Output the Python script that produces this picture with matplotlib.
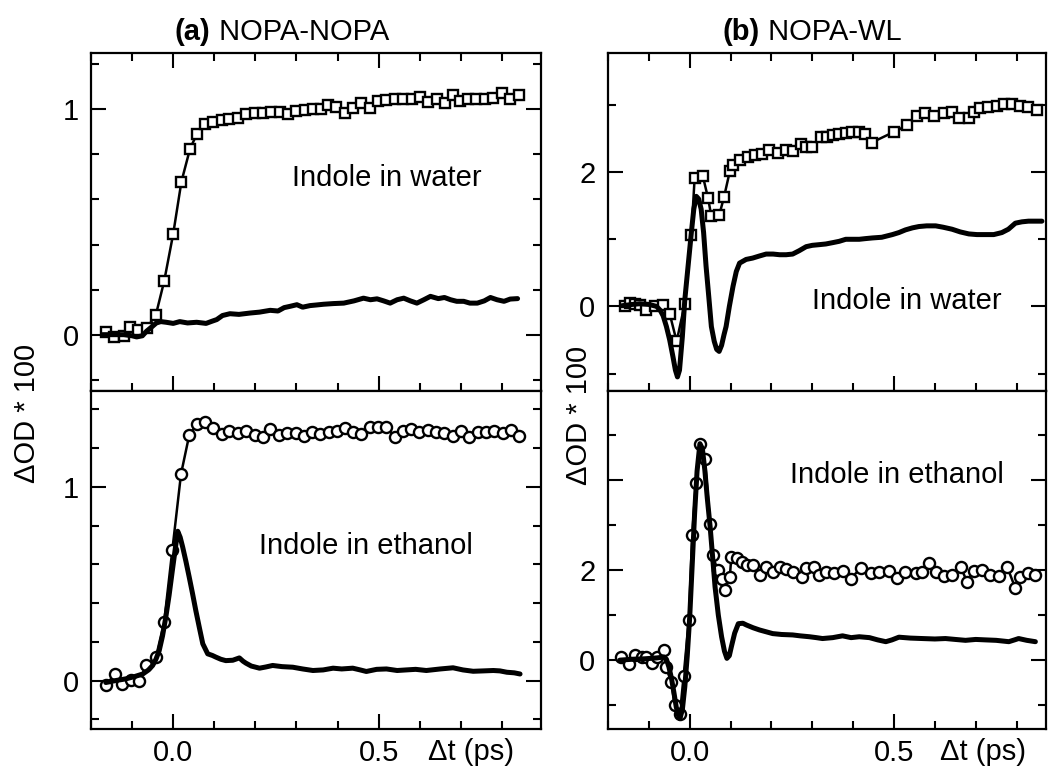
import matplotlib
matplotlib.use("Agg")
import matplotlib.pyplot as plt
from matplotlib.ticker import MultipleLocator

plt.rcParams['font.family'] = ['Liberation Sans', 'DejaVu Sans']
plt.rcParams['font.size'] = 21

# ---------------- data ----------------
# (a) NOPA-NOPA, indole in water
tl_sq_t = [-0.164, -0.144, -0.120, -0.106, -0.085, -0.064, -0.042, -0.022,
           0.000, 0.020, 0.041, 0.058, 0.077, 0.096, 0.118, 0.137, 0.157, 0.177,
           0.198, 0.218, 0.238, 0.259, 0.279, 0.299, 0.320, 0.340, 0.360, 0.377,
           0.397, 0.417, 0.437, 0.458, 0.478, 0.498, 0.519, 0.539, 0.559, 0.580,
           0.600, 0.620, 0.641, 0.661, 0.681, 0.698, 0.718, 0.738, 0.759, 0.779,
           0.799, 0.820, 0.842]
tl_sq_v = [0.012, -0.010, -0.007, 0.033, 0.019, 0.030, 0.089, 0.237,
           0.447, 0.679, 0.825, 0.892, 0.933, 0.944, 0.951, 0.958, 0.963, 0.978,
           0.982, 0.985, 0.988, 0.988, 0.980, 0.993, 0.996, 1.000, 1.003, 1.018,
           1.010, 0.985, 1.007, 1.026, 1.007, 1.037, 1.041, 1.044, 1.044, 1.044,
           1.056, 1.033, 1.044, 1.030, 1.062, 1.037, 1.044, 1.047, 1.047, 1.052,
           1.071, 1.044, 1.062]
tl_ln_t = [-0.172, -0.15, -0.12, -0.1, -0.089, -0.075, -0.065, -0.055, -0.041, -0.03,
           -0.017, 0.0, 0.016, 0.035, 0.057, 0.08, 0.095, 0.106, 0.12, 0.138,
           0.16, 0.187, 0.21, 0.236, 0.255, 0.27, 0.285, 0.301, 0.315, 0.333,
           0.35, 0.366, 0.39, 0.415, 0.44, 0.463, 0.48, 0.496, 0.512, 0.528,
           0.545, 0.561, 0.577, 0.593, 0.61, 0.626, 0.645, 0.66, 0.675, 0.69,
           0.707, 0.722, 0.740, 0.757, 0.772, 0.788, 0.805, 0.82, 0.838]
tl_ln_v = [0.0, 0.0, 0.0, -0.005, -0.01, -0.005, 0.015, 0.03, 0.052, 0.058,
           0.055, 0.05, 0.058, 0.052, 0.055, 0.05, 0.06, 0.067, 0.085, 0.093,
           0.09, 0.096, 0.1, 0.108, 0.105, 0.12, 0.126, 0.133, 0.122, 0.129,
           0.132, 0.135, 0.138, 0.14, 0.15, 0.162, 0.155, 0.159, 0.15, 0.14,
           0.155, 0.162, 0.15, 0.14, 0.155, 0.17, 0.16, 0.165, 0.155, 0.148,
           0.148, 0.14, 0.14, 0.15, 0.165, 0.155, 0.148, 0.158, 0.16]

# (a) NOPA-NOPA, indole in ethanol
bl_ci_t = [-0.163, -0.141, -0.124, -0.103, -0.083, -0.065, -0.042, -0.022, -0.002,
           0.019, 0.039, 0.058, 0.077, 0.098, 0.118, 0.137, 0.157, 0.177,
           0.198, 0.218, 0.236, 0.257, 0.277, 0.298, 0.318, 0.338, 0.358,
           0.379, 0.398, 0.417, 0.437, 0.458, 0.478, 0.498, 0.519, 0.539,
           0.559, 0.578, 0.598, 0.619, 0.639, 0.659, 0.680, 0.700, 0.720,
           0.741, 0.761, 0.781, 0.802, 0.822, 0.842]
bl_ci_v = [-0.021, 0.035, -0.017, 0.003, 0.0, 0.078, 0.121, 0.302, 0.676,
           1.066, 1.267, 1.324, 1.336, 1.302, 1.273, 1.29, 1.28, 1.286,
           1.27, 1.257, 1.30, 1.27, 1.277, 1.277, 1.265, 1.282, 1.274,
           1.282, 1.29, 1.304, 1.282, 1.274, 1.308, 1.308, 1.31, 1.257,
           1.286, 1.30, 1.282, 1.294, 1.282, 1.277, 1.265, 1.286, 1.26,
           1.282, 1.282, 1.286, 1.277, 1.294, 1.265]
bl_ln_t = [-0.164, -0.14, -0.115, -0.095, -0.074, -0.06, -0.05, -0.042, -0.034, -0.026,
           -0.018, -0.01, -0.002, 0.005, 0.011, 0.017, 0.023, 0.031, 0.039, 0.047,
           0.055, 0.064, 0.072, 0.084, 0.095, 0.104, 0.116, 0.128, 0.145, 0.161,
           0.17, 0.177, 0.19, 0.21, 0.225, 0.242, 0.265, 0.291, 0.315, 0.34,
           0.365, 0.389, 0.41, 0.437, 0.455, 0.47, 0.495, 0.519, 0.545, 0.567,
           0.59, 0.616, 0.65, 0.681, 0.705, 0.73, 0.755, 0.779, 0.795, 0.812,
           0.83, 0.844]
bl_ln_v = [-0.01, 0.0, 0.009, 0.02, 0.034, 0.055, 0.078, 0.11, 0.155, 0.23,
           0.327, 0.44, 0.569, 0.68, 0.771, 0.74, 0.69, 0.615, 0.534, 0.45,
           0.362, 0.27, 0.19, 0.138, 0.13, 0.121, 0.11, 0.103, 0.105, 0.117,
           0.1, 0.09, 0.075, 0.064, 0.07, 0.078, 0.072, 0.069, 0.06, 0.052,
           0.055, 0.064, 0.06, 0.064, 0.055, 0.047, 0.058, 0.06, 0.052, 0.055,
           0.058, 0.052, 0.06, 0.066, 0.055, 0.048, 0.05, 0.052, 0.05, 0.043,
           0.04, 0.034]

# (b) NOPA-WL, indole in water
tr_sq_t = [-0.159, -0.146, -0.134, -0.122, -0.106, -0.085, -0.065, -0.049, -0.032, -0.012,
           0.004, 0.012, 0.032, 0.045, 0.053, 0.072, 0.084, 0.098, 0.105, 0.124,
           0.142, 0.161, 0.177, 0.195, 0.215, 0.236, 0.252, 0.272, 0.285, 0.300,
           0.321, 0.335, 0.35, 0.366, 0.382, 0.398, 0.415, 0.43, 0.445, 0.5,
           0.533, 0.557, 0.577, 0.597, 0.622, 0.642, 0.658, 0.683, 0.695, 0.711,
           0.731, 0.752, 0.768, 0.788, 0.808, 0.829, 0.849]
tr_sq_v = [0.01, 0.05, 0.04, 0.02, -0.05, 0.0, 0.02, -0.11, -0.52, 0.04,
           1.067, 1.91, 1.945, 1.61, 1.34, 1.355, 1.63, 2.01, 2.11, 2.18,
           2.23, 2.25, 2.27, 2.33, 2.29, 2.33, 2.31, 2.42, 2.37, 2.38,
           2.53, 2.52, 2.55, 2.57, 2.59, 2.6, 2.6, 2.57, 2.44, 2.60,
           2.70, 2.83, 2.88, 2.83, 2.88, 2.9, 2.8, 2.8, 2.9, 2.95,
           2.97, 2.98, 3.02, 3.02, 2.98, 2.97, 2.92]
tr_ln_t = [-0.166, -0.14, -0.122, -0.1, -0.081, -0.072, -0.065, -0.057, -0.049, -0.041,
           -0.035, -0.030, -0.025, -0.018, -0.012, -0.004, 0.004, 0.01, 0.016, 0.022,
           0.028, 0.034, 0.04, 0.047, 0.053, 0.06, 0.066, 0.072, 0.078, 0.084,
           0.089, 0.097, 0.106, 0.114, 0.122, 0.138, 0.154, 0.17, 0.187, 0.204,
           0.22, 0.236, 0.252, 0.268, 0.285, 0.3, 0.317, 0.333, 0.35, 0.366,
           0.382, 0.4, 0.415, 0.43, 0.447, 0.47, 0.496, 0.512, 0.528, 0.545,
           0.561, 0.58, 0.602, 0.62, 0.642, 0.662, 0.683, 0.703, 0.724, 0.744,
           0.764, 0.78, 0.797, 0.813, 0.829, 0.846, 0.862]
tr_ln_v = [0.01, 0.03, 0.04, 0.03, 0.0, -0.06, -0.14, -0.3, -0.5, -0.75,
           -0.95, -1.05, -0.95, -0.45, 0.1, 0.6, 1.1, 1.45, 1.64, 1.6,
           1.45, 1.1, 0.6, 0.12, -0.3, -0.52, -0.64, -0.67, -0.58, -0.42,
           -0.3, 0.0, 0.3, 0.52, 0.645, 0.7, 0.72, 0.75, 0.78, 0.78,
           0.77, 0.77, 0.78, 0.83, 0.89, 0.91, 0.92, 0.93, 0.95, 0.97,
           1.0, 1.0, 1.0, 1.01, 1.02, 1.03, 1.07, 1.1, 1.14, 1.17,
           1.19, 1.2, 1.2, 1.18, 1.15, 1.11, 1.08, 1.07, 1.07, 1.07,
           1.1, 1.15, 1.24, 1.26, 1.27, 1.27, 1.27]

# (b) NOPA-WL, indole in ethanol
br_ci_t = [-0.167, -0.148, -0.134, -0.118, -0.106, -0.093, -0.081, -0.063, -0.059, -0.045,
           -0.037, -0.024, -0.015, -0.002, 0.006, 0.015, 0.025, 0.037, 0.050, 0.056,
           0.068, 0.078, 0.086, 0.098, 0.102, 0.116, 0.127, 0.139, 0.155, 0.171,
           0.187, 0.203, 0.22, 0.236, 0.252, 0.276, 0.285, 0.305, 0.317, 0.333,
           0.354, 0.374, 0.394, 0.419, 0.443, 0.463, 0.488, 0.508, 0.528, 0.553,
           0.569, 0.585, 0.602, 0.622, 0.642, 0.663, 0.679, 0.695, 0.716, 0.736,
           0.756, 0.777, 0.797, 0.809, 0.829, 0.846]
br_ci_v = [0.06, -0.09, 0.11, 0.06, 0.07, -0.07, 0.06, 0.22, -0.15, -0.48,
           -1.0, -1.2, -0.36, 0.9, 2.78, 3.93, 4.81, 4.48, 3.02, 2.33,
           2.01, 1.81, 1.56, 1.84, 2.3, 2.26, 2.19, 2.11, 2.11, 1.89,
           2.07, 1.96, 2.07, 2.02, 1.96, 1.85, 2.04, 2.07, 1.89, 1.96,
           1.93, 1.98, 1.81, 2.05, 1.93, 1.96, 1.98, 1.82, 1.96, 1.93,
           1.96, 2.15, 1.96, 1.87, 1.9, 2.07, 1.74, 1.98, 2.0, 1.9,
           1.88, 2.07, 1.6, 1.85, 1.93, 1.9]
br_ln_t = [-0.171, -0.14, -0.11, -0.08, -0.063, -0.057, -0.051, -0.045, -0.039, -0.033,
           -0.028, -0.024, -0.018, -0.012, -0.006, 0.0, 0.006, 0.012, 0.018, 0.025,
           0.031, 0.037, 0.043, 0.050, 0.056, 0.062, 0.07, 0.078, 0.085, 0.091,
           0.097, 0.102, 0.11, 0.119, 0.13, 0.139, 0.155, 0.171, 0.187, 0.203,
           0.225, 0.252, 0.27, 0.293, 0.31, 0.325, 0.35, 0.374, 0.395, 0.415,
           0.44, 0.46, 0.48, 0.495, 0.512, 0.54, 0.569, 0.6, 0.626, 0.65,
           0.675, 0.7, 0.724, 0.75, 0.781, 0.795, 0.805, 0.825, 0.846]
br_ln_v = [0.0, 0.02, 0.03, 0.05, 0.07, 0.02, -0.15, -0.39, -0.7, -1.04,
           -1.22, -1.3, -1.1, -0.59, 0.1, 0.96, 2.1, 3.26, 4.2, 4.81,
           4.7, 4.22, 3.6, 2.96, 2.3, 1.63, 1.0, 0.52, 0.2, 0.04,
           0.1, 0.3, 0.6, 0.81, 0.82, 0.78, 0.72, 0.67, 0.63, 0.59,
           0.57, 0.56, 0.54, 0.52, 0.5, 0.48, 0.5, 0.54, 0.5, 0.52,
           0.5, 0.45, 0.41, 0.45, 0.51, 0.49, 0.48, 0.47, 0.48, 0.46,
           0.44, 0.46, 0.45, 0.44, 0.41, 0.45, 0.48, 0.44, 0.41]

xtick_major = [0.0, 0.5]
xtick_labels = ["0.0", "0.5"]

# ---------------- figure ----------------
W, H = 1048, 771
fig = plt.figure(figsize=(W / 100, H / 100), dpi=100)

def box(x0, x1, y0, y1):
    return [x0 / W, 1 - y1 / H, (x1 - x0) / W, (y1 - y0) / H]

ax_tl = fig.add_axes(box(91, 541, 53, 391))
ax_bl = fig.add_axes(box(91, 541, 391, 729))
ax_tr = fig.add_axes(box(608, 1046, 53, 391))
ax_br = fig.add_axes(box(608, 1046, 391, 729))

def style(ax, xlim, ylim, ymaj, ymaj_labels, ymin_step, top, bottom_labels):
    ax.set_xlim(*xlim)
    ax.set_ylim(*ylim)
    ax.set_xticks(xtick_major, labels=xtick_labels if bottom_labels else ["", ""])
    ax.xaxis.set_minor_locator(MultipleLocator(0.1))
    ax.set_yticks(ymaj, labels=ymaj_labels)
    ax.yaxis.set_minor_locator(MultipleLocator(ymin_step))
    ax.tick_params(which='both', direction='in', right=True, top=top, width=1.5)
    ax.tick_params(which='major', length=11)
    ax.tick_params(which='minor', length=6)
    ax.tick_params(axis='y', which='major', pad=9)
    ax.tick_params(axis='x', which='major', pad=7)
    for s in ax.spines.values():
        s.set_linewidth(1.6)

style(ax_tl, (-0.2, 0.895), (-0.25, 1.25), [0, 1], ["0", "1"], 0.2, True, False)
style(ax_bl, (-0.2, 0.895), (-0.25, 1.495), [0, 1], ["0", "1"], 0.2, False, True)
style(ax_tr, (-0.2, 0.872), (-1.26, 3.775), [0, 2], ["0", "2"], 1.0, True, False)
style(ax_br, (-0.2, 0.872), (-1.53, 5.98), [0, 2, 4], ["0", "2", ""], 1.0, False, True)

thin = dict(color='black', lw=1.8, zorder=2)
thick = dict(color='black', lw=3.6, zorder=4, solid_capstyle='round', solid_joinstyle='round')
sq = dict(marker='s', ms=6.5, mfc='white', mec='black', mew=1.7, ls='none', zorder=3)
ci = dict(marker='o', ms=8, mfc='white', mec='black', mew=1.7, ls='none', zorder=3)

ax_tl.plot(tl_sq_t, tl_sq_v, **thin)
ax_tl.plot(tl_sq_t, tl_sq_v, **sq)
ax_tl.plot(tl_ln_t, tl_ln_v, **thick)

ax_bl.plot(bl_ci_t, bl_ci_v, **thin)
ax_bl.plot(bl_ci_t, bl_ci_v, **ci)
ax_bl.plot(bl_ln_t, bl_ln_v, **thick)

ax_tr.plot(tr_sq_t, tr_sq_v, **thin)
ax_tr.plot(tr_sq_t, tr_sq_v, **sq)
ax_tr.plot(tr_ln_t, tr_ln_v, **thick)

ax_br.plot(br_ci_t, br_ci_v, **thin)
ax_br.plot(br_ci_t, br_ci_v, **ci)
ax_br.plot(br_ln_t, br_ln_v, **thick)

ax_tl.text(0.29, 0.659, "Indole in water", ha='left', va='baseline')
ax_bl.text(0.21, 0.655, "Indole in ethanol", ha='left', va='baseline')
ax_tr.text(0.30, -0.04, "Indole in water", ha='left', va='baseline')
ax_br.text(0.246, 3.93, "Indole in ethanol", ha='left', va='baseline')

# titles with bold panel letters
ta = fig.text(175 / W, 1 - 40 / H, "(a)", fontweight='bold', ha='left', va='baseline')
fig.add_artist(plt.Annotation(" NOPA-NOPA", xy=(1, 0), xycoords=ta,
                              ha='left', va='bottom', annotation_clip=False))
tb = fig.text(723 / W, 1 - 40 / H, "(b)", fontweight='bold', ha='left', va='baseline')
fig.add_artist(plt.Annotation(" NOPA-WL", xy=(1, 0), xycoords=tb,
                              ha='left', va='bottom', annotation_clip=False))

# axis labels
fig.text(27.4 / W, 1 - 413.5 / H, "\u0394OD * 100", rotation=90, ha='center', va='center')
fig.text(578.6 / W, 1 - 415 / H, "\u0394OD * 100", rotation=90, ha='center', va='center')
fig.text(428 / W, 1 - 760 / H, "\u0394t (ps)", ha='left', va='baseline')
fig.text(940 / W, 1 - 760 / H, "\u0394t (ps)", ha='left', va='baseline')

fig.savefig("out.png", dpi=100)
